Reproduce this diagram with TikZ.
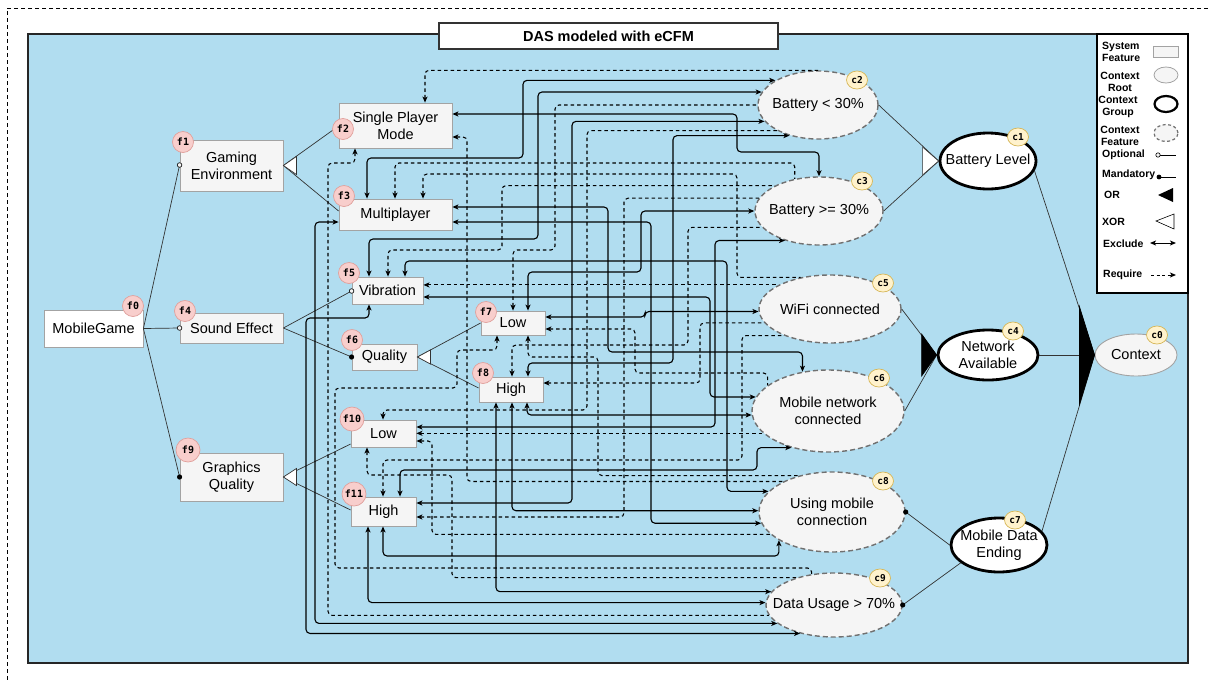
\documentclass[tikz,border=0pt]{standalone}
\usepackage{fontspec}
\setmainfont{Liberation Sans}
\newfontfamily\badgefont{DejaVu Sans Mono}
\usetikzlibrary{arrows.meta,shapes.geometric}

\definecolor{panelblue}{HTML}{B1DDF0}
\definecolor{featfill}{HTML}{F5F5F5}
\definecolor{featdraw}{HTML}{A3A3A3}
\definecolor{pinkfill}{HTML}{F8CECC}
\definecolor{pinkdraw}{HTML}{E0A09C}
\definecolor{goldfill}{HTML}{FFF2CC}
\definecolor{golddraw}{HTML}{D6B656}
\definecolor{ctxdash}{HTML}{707070}
\definecolor{treeline}{HTML}{333333}

\begin{document}
\begin{tikzpicture}[x=1pt,y=-1pt,
  >={Stealth[length=6pt,width=5pt,inset=1.5pt]},
  lbl/.style={font=\fontsize{14.5}{17}\selectfont, align=center},
  feat/.style={rectangle, draw=featdraw, fill=featfill, line width=0.8pt, inner sep=0pt, lbl},
  ctxfeat/.style={ellipse, draw=ctxdash, fill=featfill, line width=1.4pt, dash pattern=on 5pt off 3pt, inner sep=0pt},
  ctxgroup/.style={ellipse, draw=black, fill=white, line width=2.8pt, inner sep=0pt},
  ctxroot/.style={ellipse, draw=featdraw, fill=featfill, line width=0.9pt, inner sep=0pt},
  fbadge/.style={circle, fill=pinkfill, draw=pinkdraw, line width=0.7pt, minimum size=21pt, inner sep=0pt,
    font={\badgefont\bfseries\fontsize{10}{11}\selectfont}},
  cbadge/.style={ellipse, fill=goldfill, draw=golddraw, line width=0.7pt, minimum width=21pt, minimum height=18pt, inner sep=0pt,
    font={\badgefont\bfseries\fontsize{9.5}{10}\selectfont}},
  excl/.style={line width=1.1pt, rounded corners=4pt, <->},
  req/.style={line width=1.05pt, dash pattern=on 3.5pt off 3pt, rounded corners=4pt, <-},
  tree/.style={draw=treeline, line width=0.7pt},
  xorgrp/.style={fill=white, draw=treeline, line width=0.7pt},
  orgrp/.style={fill=black, draw=black, line width=0.7pt},
  optdot/.style={fill=featfill, draw=black, line width=0.6pt},
  legtext/.style={font={\bfseries\fontsize{10.5}{12}\selectfont}, align=center, inner sep=0pt}
]
\useasboundingbox (0,0) rectangle (1208,681);

% outer frame and panel
\draw[dash pattern=on 4pt off 3pt, line width=0.9pt] (1208,8) -- (7,8) -- (7,681);
\draw[fill=panelblue, draw=black!85, line width=1.3pt] (28,34) rectangle (1188,663);
\node[draw=black!80, fill=white, line width=1.1pt, minimum width=339pt, minimum height=26pt, inner sep=0pt,
  font={\bfseries\fontsize{14.5}{17}\selectfont}] (title) at (608.5,36) {DAS modeled with eCFM};

% legend
\node[draw=black, fill=white, line width=1.3pt, minimum width=91pt, minimum height=259pt, inner sep=0pt] (legend) at (1142.5,163.5) {};
\node[legtext, align=left, anchor=west] (lg1) at (1102,51.5) {System\\Feature};
\draw[fill=featfill, draw=featdraw, line width=0.8pt] (1153,46) rectangle (1178,57);
\node[legtext] (lg2) at (1120,82) {Context\\Root};
\draw[fill=featfill, draw=featdraw, line width=0.8pt] (1166,75) ellipse [x radius=12pt, y radius=8pt];
\node[legtext] (lg3) at (1118,107) {Context\\Group};
\draw[fill=white, draw=black, line width=2.2pt] (1166,104) ellipse [x radius=11.5pt, y radius=8pt];
\node[legtext] (lg4) at (1120,135.5) {Context\\Feature};
\draw[fill=featfill, draw=ctxdash, line width=1.2pt, dash pattern=on 3pt off 2.5pt] (1166,133) ellipse [x radius=12pt, y radius=8.5pt];
\node[legtext, anchor=west] (lg5) at (1102,155) {Optional};
\draw[line width=0.6pt] (1160,155) -- (1176,155);
\filldraw[optdot] (1158,155) circle (2.2pt);
\node[legtext, anchor=west] (lg6) at (1102,175) {Mandatory};
\draw[line width=0.6pt] (1159,177) -- (1176,177);
\fill (1159,177) circle (2.4pt);
\node[legtext, anchor=west] (lg7) at (1104,194.5) {OR};
\fill (1158,195) -- (1173,188) -- (1173,202) -- cycle;
\node[legtext, anchor=west] (lg8) at (1102,222) {XOR};
\draw[fill=white, line width=0.6pt] (1156,221) -- (1174,214) -- (1174,229) -- cycle;
\node[legtext, anchor=west] (lg9) at (1103,244) {Exclude};
\draw[line width=1pt, <->] (1150,243) -- (1176,243);
\node[legtext, anchor=west] (lg10) at (1103,275) {Require};
\draw[line width=1pt, dash pattern=on 3pt off 2.5pt, ->] (1151,275) -- (1176,275);

% system features
\node[feat, fill=white, minimum width=99pt, minimum height=37pt] (f0) at (93.5,328.5) {MobileGame};
\node[feat, minimum width=103pt, minimum height=51pt] (f1) at (231.5,165.5) {Gaming\\Environment};
\node[feat, minimum width=113pt, minimum height=45pt] (f2) at (395.5,125.5) {Single Player\\Mode};
\node[feat, minimum width=113pt, minimum height=31pt] (f3) at (395.5,214.5) {Multiplayer};
\node[feat, minimum width=103pt, minimum height=30pt] (f4) at (231.5,328) {Sound Effect};
\node[feat, minimum width=71pt, minimum height=27pt] (f5) at (387.5,290.5) {Vibration};
\node[feat, minimum width=65pt, minimum height=26pt] (f6) at (384.5,357) {Quality};
\node[feat, minimum width=64pt, minimum height=24pt] (f7) at (513,323) {Low};
\node[feat, minimum width=64pt, minimum height=25pt] (f8) at (511,389.5) {High};
\node[feat, minimum width=103pt, minimum height=48pt] (f9) at (231.5,477) {Graphics\\Quality};
\node[feat, minimum width=65pt, minimum height=27pt] (f10) at (383.5,433.5) {Low};
\node[feat, minimum width=65pt, minimum height=29pt] (f11) at (383.5,511.5) {High};

% context model
\node[ctxroot, minimum width=82pt, minimum height=42pt, label={[lbl]center:Context}] (c0) at (1136,355) {};
\node[ctxgroup, minimum width=96pt, minimum height=56pt, label={[lbl]center:Battery Level}] (c1) at (988,161) {};
\node[ctxfeat, minimum width=120pt, minimum height=68pt, label={[lbl]center:Battery < 30\%}] (c2) at (818,105) {};
\node[ctxfeat, minimum width=128pt, minimum height=68pt, label={[lbl]center:Battery >= 30\%}] (c3) at (819,211) {};
\node[ctxgroup, minimum width=100pt, minimum height=50pt, label={[lbl]center:Network\\Available}] (c4) at (988,355) {};
\node[ctxfeat, minimum width=142pt, minimum height=68pt, label={[lbl]center:WiFi connected}] (c5) at (830,309) {};
\node[ctxfeat, minimum width=152pt, minimum height=82pt, label={[lbl]center:Mobile network\\connected}] (c6) at (828,411) {};
\node[ctxgroup, minimum width=96pt, minimum height=54pt, label={[lbl]center:Mobile Data\\Ending}] (c7) at (999,545) {};
\node[ctxfeat, minimum width=146pt, minimum height=80pt, label={[lbl]center:Using mobile\\connection}] (c8) at (832,512) {};
\node[ctxfeat, minimum width=136pt, minimum height=64pt, label={[lbl]center:Data Usage > 70\%}] (c9) at (834,605) {};

% feature tree
\draw[tree] (f0.east) -- (f1.west |- 0,165);
\draw[tree] (f0.east) -- (f4.west);
\draw[tree] (f0.east) -- (f9.west |- 0,477);
\draw[tree] (f1.east) -- (f2.west |- 0,126);
\draw[tree] (f1.east) -- (f3.west |- 0,211);
\draw[tree] (f4.east) -- (f5.west |- 0,291);
\draw[tree] (f4.east) -- (f6.west);
\draw[tree] (f6.east) -- (f7.west |- 0,323);
\draw[tree] (f6.east) -- (f8.west |- 0,388);
\draw[tree] (f9.east) -- (f10.west |- 0,444);
\draw[tree] (f9.east) -- (f11.west |- 0,510);

% context tree
\draw[tree] (c2.east) -- (c1.west);
\draw[tree] (c3.east) -- (c1.west);
\draw[tree] (c5.east) -- (c4.west);
\draw[tree] (c6.east) -- (c4.west);
\draw[tree] (c1.-12) -- (c0.west);
\draw[tree] (c4.east) -- (c0.west);
\draw[tree] (c7.18) -- (c0.west);
\draw[tree] (c8.east) -- (c7.west);
\draw[tree] (c9.east) -- (c7.205);

% exclude and require constraints
\draw[excl] (367,0 |- f3.north) |- (523,158) |- (c2.150);
\draw[excl] (369,0 |- f5.north) |- (538,239) |- (c2.167);
\draw[req]  (513,0 |- f7.north) |- (555,250) |- (c2.west);
\draw[excl] (f2.east |- 0,114) -| (737,152) -| (c3.north);
\draw[excl] (f11.east |- 0,503) -- (572,503) |- (c2.197);
\draw[req]  (383,0 |- f10.north) |- (587,410) |- (c2.212);
\draw[excl] (528,0 |- f8.north) |- (673,363) |- (c2.227);
\draw[req]  (395,0 |- f3.north) -- (395,163) -| (c3.127);
\draw[req]  (423,0 |- f3.north) |- (737,174) |- (c5.133);
\draw[req]  (388,0 |- f5.north) |- (502,250) |- (c3.150);
\draw[req]  (f11.east |- 0,517) -- (624,517) |- (c3.168);
\draw[excl] (528,0 |- f7.north) |- (641,272) |- (c3.west);
\draw[excl] (f3.east |- 0,207) -| (608,352) -| (c6.123);
\draw[excl] (f3.east |- 0,222) -- (651,222) |- (c8.189);
\draw[req]  (512,0 |- f8.north) |- (688,345) |- (c3.196);
\draw[excl] (f10.east |- 0,427) -- (715,427) |- (c3.221);
\draw[excl] (405,0 |- f5.north) |- (727,261) |- (c8.162);
\draw[req]  (f5.east |- c5.155) -- (c5.155);
\draw[excl] (f5.east |- 0,297) -- (710,297) |- (c6.169);
\draw[excl] (f7.east |- 0,317) -- (645,317) |- (c5.182);
\draw[req]  (f7.east |- 0,329) -| (635,373) -| (c6.157);
\draw[req]  (f8.east |- 0,383) -- (700,383) |- (c5.192);
\draw[excl] (527,0 |- f8.south) |- (c6.183);
\draw[excl] (512,0 |- f8.south) |- (c8.179);
\draw[excl] (496,0 |- f8.south) |- (c9.168);
\draw[req]  (528,0 |- f7.south) |- (598,357) |- (c8.132);
\draw[req]  (f2.east |- 0,137) -- (467,137) |- (c8.148);
\draw[req]  (f10.east |- c6.199) -- (c6.199);
\draw[req]  (f10.east |- 0,441) -- (432,441) |- (c8.200);
\draw[req]  (367,0 |- f10.south) |- (452,475) |- (c9.144);
\draw[excl] (400,0 |- f11.north) |- (757,470) |- (c6.225);
\draw[req]  (383,0 |- f11.north) |- (742,460) |- (c5.210);
\draw[excl] (383,0 |- f11.south) -- (383,556) -| (c8.208);
\draw[excl] (368,0 |- f11.south) |- (c9.178);
\draw[req]  (497,0 |- f7.south) |- (457,350) |- (335,388) -- (335,568) -| (c9.126);
\draw[req]  (355,0 |- f2.south) |- (328,163) |- (c9.189);
\draw[excl] (f3.west |- 0,222) -- (315,222) |- (c9.198);
\draw[excl] (369,0 |- f5.south) |- (306,318) |- (c9.220);
\draw[req]  (425,0 |- f2.north) |- (c2.north);

% group markers
\draw[xorgrp] (f1.east) -- ++(13,-9) -- ++(0,18) -- cycle;
\draw[xorgrp] (f6.east) -- ++(13,-7) -- ++(0,14) -- cycle;
\draw[xorgrp] (f9.east) -- ++(13,-8.5) -- ++(0,17) -- cycle;
\draw[xorgrp] (c1.west) -- ++(-16,-14) -- ++(0,28) -- cycle;
\draw[orgrp] (c4.west) -- ++(-15,-21) -- ++(0,42) -- cycle;
\draw[orgrp] (c0.west) -- ++(-15,-48) -- ++(0,97) -- cycle;

% optional / mandatory ends
\filldraw[optdot] (f1.west |- 0,165) circle (2.3pt);
\filldraw[optdot] (f4.west) circle (2.3pt);
\fill (f9.west |- 0,477) circle (2.6pt);
\filldraw[optdot] (f5.west |- 0,291) circle (2.3pt);
\fill (f6.west) circle (2.6pt);
\fill (c8.east) circle (2.6pt);
\fill (c9.east) circle (2.6pt);

% identifiers
\node[fbadge] (bf0) at (133,306) {f0};
\node[fbadge] (bf1) at (183,142) {f1};
\node[fbadge] (bf2) at (343,129) {f2};
\node[fbadge] (bf3) at (344,196) {f3};
\node[fbadge] (bf4) at (185,311) {f4};
\node[fbadge] (bf5) at (349,273) {f5};
\node[fbadge] (bf6) at (352,340) {f6};
\node[fbadge] (bf7) at (486,312) {f7};
\node[fbadge] (bf8) at (483,373) {f8};
\node[fbadge, minimum size=24pt] (bf9) at (188,450) {f9};
\node[fbadge, minimum size=24pt] (bf10) at (352,419) {f10};
\node[fbadge, minimum size=24pt] (bf11) at (354,494) {f11};

\node[cbadge] (bc0) at (1157,335) {c0};
\node[cbadge] (bc1) at (1018,137) {c1};
\node[cbadge] (bc2) at (857,80) {c2};
\node[cbadge] (bc3) at (862,181) {c3};
\node[cbadge] (bc4) at (1013,331) {c4};
\node[cbadge] (bc5) at (883,283) {c5};
\node[cbadge] (bc6) at (879,378) {c6};
\node[cbadge] (bc7) at (1015,520) {c7};
\node[cbadge] (bc8) at (883,481) {c8};
\node[cbadge] (bc9) at (880,578) {c9};
\end{tikzpicture}
\end{document}
